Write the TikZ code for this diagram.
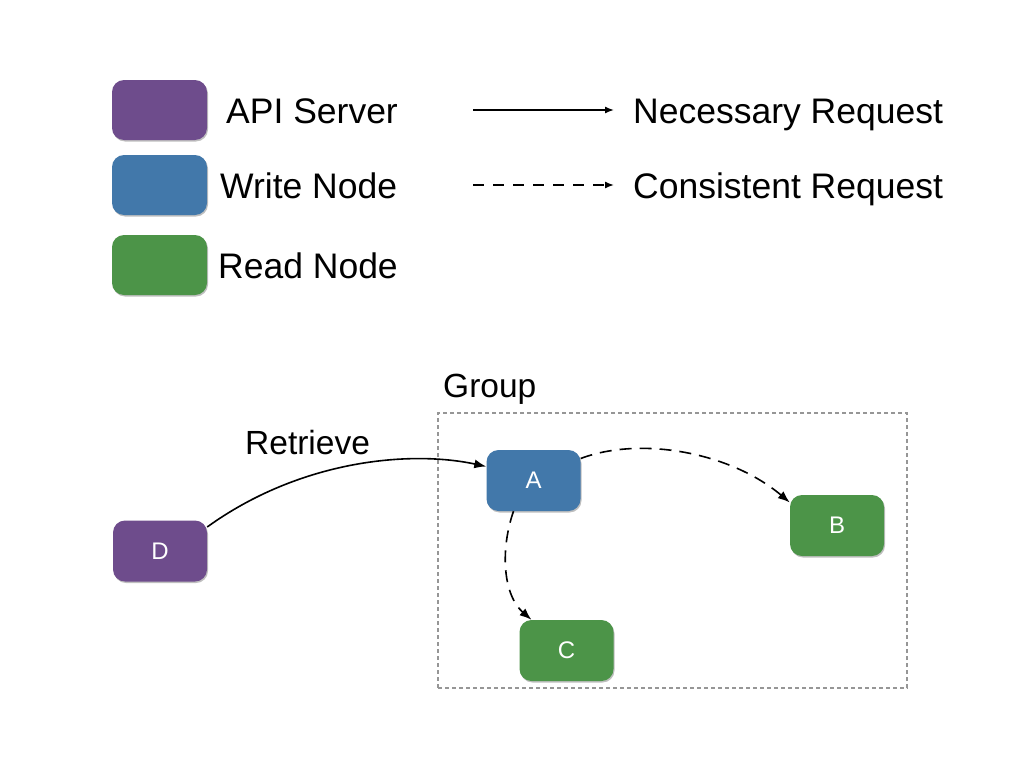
\documentclass[tikz,border=0pt]{standalone}
\usepackage{fontspec}
\setmainfont{Liberation Sans}
\usetikzlibrary{arrows.meta,shadows}
\definecolor{apipurple}{RGB}{110,76,140}
\definecolor{writeblue}{RGB}{66,120,170}
\definecolor{readgreen}{RGB}{76,148,72}
\definecolor{grpgray}{RGB}{150,150,150}
\tikzset{
  box/.style={rounded corners=12pt, minimum width=94pt, minimum height=61pt, inner sep=0pt,
    text=white, font=\fontsize{24}{28}\selectfont,
    drop shadow={shadow xshift=1pt, shadow yshift=-1.5pt, opacity=0.25, fill=black}},
  apibox/.style={box, fill=apipurple},
  writebox/.style={box, fill=writeblue},
  readbox/.style={box, fill=readgreen},
  legtext/.style={font=\fontsize{35.5}{40}\selectfont, inner sep=0pt, anchor=base west},
  lbl/.style={font=\fontsize{33.5}{38}\selectfont, inner sep=0pt, anchor=base west},
  conn/.style={line width=1.6pt, -{Latex[length=12pt,width=9pt]}},
  dconn/.style={conn, dash pattern=on 12pt off 8pt},
}
\begin{document}
\begin{tikzpicture}[x=1pt,y=-1pt]
\useasboundingbox (0,0) rectangle (1024,768);
% legend
\node[apibox, minimum width=95pt, minimum height=60pt] (lp) at (159.5,110) {};
\node[writebox, minimum width=95pt, minimum height=60pt] (lb) at (159.5,185) {};
\node[readbox, minimum width=95pt, minimum height=60pt] (lg) at (159.5,265) {};
\node[legtext] (tp) at (226,123) {API Server};
\node[legtext] (tb) at (220,198) {Write Node};
\node[legtext] (tg) at (218,278) {Read Node};
\coordinate (s1) at (473,110);
\coordinate (e1) at (614,110);
\coordinate (s2) at (473,185);
\coordinate (e2) at (614,185);
\draw[conn, line width=1.4pt, -{Latex[length=9pt,width=7pt]}] (s1) -- (e1);
\draw[conn, line width=1.4pt, -{Latex[length=9pt,width=7pt]}, dash pattern=on 11pt off 9pt] (s2) -- (e2);
\node[legtext] (tn) at (633,123) {Necessary Request};
\node[legtext] (tc) at (633,198) {Consistent Request};
% group
\node[draw=grpgray, line width=1.6pt, dash pattern=on 4pt off 3pt, minimum width=469pt, minimum height=275pt, inner sep=0pt] (grp) at (672.5,550.5) {};
\node[lbl] (gl) at (443,397) {Group};
% nodes
\node[apibox] (D) at (160,551) {D};
\node[writebox] (A) at (533.5,480.5) {A};
\node[readbox] (B) at (837,525.5) {B};
\node[readbox] (C) at (566.5,650.5) {C};
\node[lbl] (rl) at (245,454) {Retrieve};
% connectors
\draw[conn] ([yshift=24pt]D.east) .. controls (300,460) and (410,450) .. ([yshift=14pt]A.west);
\draw[dconn] ([yshift=22pt]A.east) .. controls (640,436) and (730,452) .. ([yshift=23pt]B.west);
\draw[dconn] ([xshift=-20pt]A.south) .. controls (500,550) and (503,595) .. ([xshift=-35pt]C.north);
\end{tikzpicture}
\end{document}
